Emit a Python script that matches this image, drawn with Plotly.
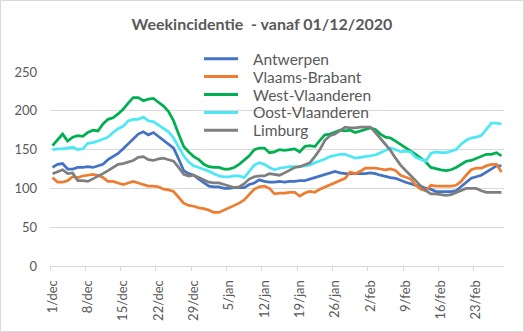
import plotly.graph_objects as go

# ---- data ----
months = [("dec", 31), ("jan", 31), ("feb", 28)]
dates = [f"{d}/{m}" for m, n in months for d in range(1, n + 1)]

antwerpen = [127, 131, 132, 125, 125, 127, 127, 128, 127, 129,
             131, 137, 141, 145, 151, 157, 163, 170, 173, 169,
             172, 167, 162, 158, 152, 138, 123, 119, 117, 112,
             107, 103, 102, 102, 100, 100, 101, 101, 101, 105,
             107, 111, 109, 108, 108, 109, 108, 109, 109, 110,
             110, 112, 114, 116, 118, 121, 122, 120, 119, 119,
             119, 119, 119, 120, 119, 117, 115, 114, 113, 110,
             108, 106, 104, 103, 100, 99, 96, 96, 96, 96,
             97, 102, 107, 113, 115, 117, 121, 125, 129, 129]

vlaams_brabant = [114, 108, 108, 110, 115, 114, 116, 117, 118, 117,
                  114, 109, 109, 107, 105, 107, 109, 107, 105, 103,
                  103, 102, 99, 98, 96, 89, 81, 78, 77, 75,
                  74, 72, 69, 69, 72, 74, 78, 81, 85, 92,
                  99, 102, 103, 100, 93, 94, 94, 95, 95, 90,
                  94, 96, 95, 99, 102, 105, 108, 110, 113, 121,
                  119, 122, 126, 126, 126, 125, 124, 125, 123, 117,
                  114, 112, 104, 99, 97, 104, 103, 103, 103, 103,
                  104, 109, 117, 124, 126, 126, 129, 131, 131, 121]

west_vlaanderen = [155, 162, 170, 161, 166, 168, 167, 172, 175, 174,
                   183, 189, 191, 196, 202, 210, 217, 217, 213, 215,
                   216, 211, 206, 199, 187, 170, 154, 147, 141, 137,
                   131, 128, 127, 127, 125, 125, 127, 131, 136, 142,
                   150, 152, 152, 146, 147, 150, 149, 150, 151, 147,
                   154, 155, 154, 162, 169, 170, 173, 175, 174, 175,
                   172, 174, 176, 178, 176, 170, 166, 165, 161, 157,
                   153, 148, 144, 139, 134, 127, 125, 124, 123, 124,
                   127, 131, 135, 136, 139, 142, 144, 144, 146, 142]

oost_vlaanderen = [150, 151, 151, 152, 153, 150, 151, 158, 159, 161,
                   163, 166, 172, 177, 180, 187, 189, 189, 192, 187,
                   186, 182, 178, 173, 165, 154, 142, 134, 129, 127,
                   125, 122, 119, 116, 115, 115, 116, 116, 114, 122,
                   130, 133, 131, 127, 124, 126, 127, 128, 128, 128,
                   129, 130, 133, 135, 138, 141, 143, 144, 144, 142,
                   139, 140, 141, 142, 143, 146, 149, 152, 150, 147,
                   148, 147, 140, 137, 135, 145, 147, 146, 146, 148,
                   150, 157, 162, 165, 166, 168, 176, 184, 184, 183]

limburg = [119, 121, 124, 119, 120, 110, 110, 109, 112, 115,
           119, 123, 127, 131, 132, 134, 136, 140, 141, 137,
           136, 138, 139, 137, 135, 127, 118, 116, 117, 114,
           111, 108, 107, 107, 105, 103, 101, 102, 106, 112,
           115, 116, 116, 119, 118, 117, 120, 123, 127, 128,
           130, 133, 141, 150, 162, 168, 170, 175, 179, 178,
           178, 179, 179, 179, 172, 164, 156, 149, 139, 130,
           123, 117, 110, 103, 97, 93, 93, 92, 91, 92,
           95, 98, 100, 100, 100, 97, 95, 95, 95, 95]

series_names = ["Antwerpen", "Vlaams-Brabant", "West-Vlaanderen",
                "Oost-Vlaanderen", "Limburg"]
series_values = [antwerpen, vlaams_brabant, west_vlaanderen,
                 oost_vlaanderen, limburg]
series_colors = ["#4472C4", "#ED7D31", "#00B050", "#4DE8F7", "#7F7F7F"]

y_ticks = [0, 50, 100, 150, 200, 250]

# ---- layout geometry (pixels) ----
W, H = 524, 332
L, R, T, B = 50, 20, 72, 66
PW, PH = W - L - R, H - T - B
FONT = "Lato, 'Open Sans', sans-serif"
TXT = "#595959"
GRID = "#D9D9D9"


def px_x(px):
    return (px - L) / PW


def px_y(py):
    return (H - B - py) / PH


fig = go.Figure()
for name, vals, col in zip(series_names, series_values, series_colors):
    fig.add_trace(go.Scatter(
        x=dates, y=vals, name=name, mode="lines",
        line=dict(color=col, width=2.75),
        showlegend=False, hoverinfo="x+y+name"))

# manual legend (lines + text)
shapes = []
annotations = []
leg_y0, leg_dy = 58.7, 17.9
for i, (name, col) in enumerate(zip(series_names, series_colors)):
    py = leg_y0 + i * leg_dy
    shapes.append(dict(type="line", xref="paper", yref="paper",
                       x0=px_x(204), x1=px_x(238), y0=px_y(py), y1=px_y(py),
                       line=dict(color=col, width=3)))
    annotations.append(dict(xref="paper", yref="paper", x=px_x(251),
                            y=px_y(py), text=name, showarrow=False,
                            xanchor="left", yanchor="middle",
                            font=dict(family=FONT, size=15.5, color=TXT)))

# chart border
shapes.append(dict(type="rect", xref="paper", yref="paper",
                   x0=px_x(0.5), x1=px_x(W - 0.5), y0=px_y(H - 0.5), y1=px_y(0.5),
                   line=dict(color=GRID, width=1), fillcolor="rgba(0,0,0,0)",
                   layer="below"))

fig.update_layout(
    width=W, height=H,
    margin=dict(l=L, r=R, t=T, b=B, pad=0),
    paper_bgcolor="white", plot_bgcolor="white",
    title=dict(text="Weekincidentie\u00a0 - vanaf 01/12/2020",
               x=0.5, xanchor="center", y=1 - 24.5 / H, yanchor="middle",
               font=dict(family=FONT, size=16, color=TXT, weight="bold")),
    shapes=shapes, annotations=annotations,
    xaxis=dict(type="category", range=[-0.5, len(dates) - 0.5],
               tickmode="linear", tick0=0, dtick=7,
               tickson="boundaries", ticks="outside", ticklen=4,
               tickcolor=GRID, showline=True, linecolor=GRID, linewidth=1,
               showgrid=False, tickangle=-90, ticklabelstandoff=8,
               tickfont=dict(family=FONT, size=13, color=TXT)),
    yaxis=dict(range=[0, 250], tickvals=y_ticks, showgrid=True,
               gridcolor=GRID, gridwidth=1, zeroline=False, showline=False,
               ticks="", ticklabelstandoff=12,
               tickfont=dict(family=FONT, size=13, color=TXT)),
)

fig.write_html("out.html")
